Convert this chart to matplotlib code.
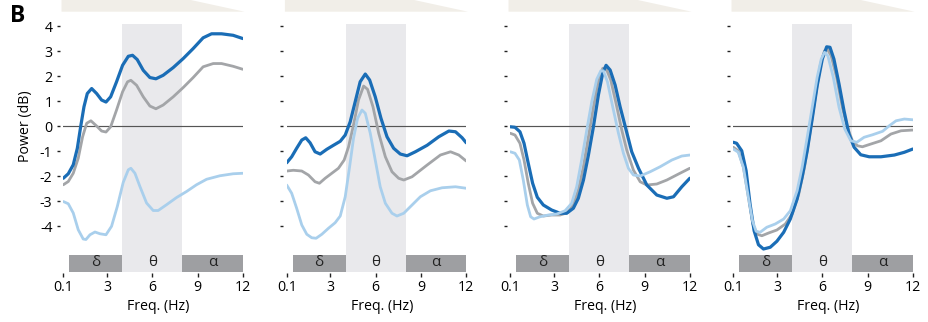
import matplotlib
matplotlib.use("Agg")
import matplotlib.pyplot as plt
from matplotlib.patches import Polygon

plt.rcParams["font.family"] = ["Open Sans", "DejaVu Sans"]
plt.rcParams["axes.unicode_minus"] = False

# ---- spectra (power in dB vs frequency in Hz), one panel per condition ----
# panel 1
f1_dark = [0.1, 0.43, 0.76, 1.03, 1.25, 1.47, 1.69, 1.98, 2.31, 2.64, 2.93, 3.24, 3.63, 4.03, 4.41,
           4.69, 5.0, 5.4, 5.84, 6.24, 6.72, 7.39, 8.05, 8.71, 9.37, 9.93, 10.59, 11.36, 12.0]
p1_dark = [-2.09, -1.91, -1.55, -0.89, -0.03, 0.77, 1.30, 1.50, 1.30, 1.04, 0.96, 1.17, 1.77, 2.43, 2.79,
           2.83, 2.66, 2.23, 1.94, 1.89, 2.03, 2.34, 2.70, 3.10, 3.53, 3.69, 3.69, 3.63, 3.50]
f1_gray = [0.1, 0.43, 0.76, 1.09, 1.38, 1.65, 1.93, 2.31, 2.64, 2.93, 3.24, 3.63, 4.03, 4.36,
           4.58, 4.96, 5.4, 5.84, 6.24, 6.72, 7.39, 8.05, 8.71, 9.37, 10.04, 10.59, 11.36, 12.0]
p1_gray = [-2.35, -2.22, -1.89, -1.29, -0.43, 0.11, 0.21, 0.0, -0.20, -0.24, -0.03, 0.64, 1.37, 1.77,
           1.83, 1.63, 1.17, 0.80, 0.69, 0.84, 1.17, 1.54, 1.94, 2.37, 2.50, 2.50, 2.39, 2.27]
f1_light = [0.1, 0.43, 0.76, 1.09, 1.42, 1.6, 1.87, 2.2, 2.53, 2.93, 3.3, 3.68, 4.07, 4.41, 4.58,
            4.85, 5.18, 5.62, 6.06, 6.39, 6.94, 7.61, 8.27, 8.93, 9.6, 10.48, 11.36, 12.0]
p1_light = [-3.02, -3.11, -3.48, -4.15, -4.52, -4.54, -4.35, -4.24, -4.31, -4.35, -4.01, -3.22, -2.26, -1.75, -1.69,
            -1.89, -2.42, -3.08, -3.38, -3.38, -3.15, -2.86, -2.62, -2.35, -2.13, -1.99, -1.91, -1.89]

# panel 2
f2_dark = [0.1, 0.43, 0.76, 1.1, 1.36, 1.65, 1.98, 2.32, 2.76, 3.2, 3.65, 3.98, 4.31, 4.64, 4.97,
           5.31, 5.6, 5.97, 6.35, 6.75, 7.19, 7.63, 8.08, 8.63, 9.41, 10.18, 10.85, 11.29, 11.73, 12.0]
p2_dark = [-1.47, -1.23, -0.89, -0.56, -0.47, -0.67, -1.03, -1.12, -0.93, -0.77, -0.61, -0.36, 0.17, 0.97, 1.77,
           2.08, 1.84, 1.17, 0.31, -0.43, -0.89, -1.12, -1.19, -1.03, -0.77, -0.43, -0.20, -0.23, -0.47, -0.67]
f2_gray = [0.1, 0.54, 1.1, 1.54, 1.98, 2.27, 2.65, 3.09, 3.53, 3.91, 4.2, 4.53, 4.86, 5.2,
           5.46, 5.82, 6.2, 6.64, 7.08, 7.52, 7.86, 8.41, 9.41, 10.29, 10.96, 11.51, 12.0]
p2_gray = [-1.80, -1.77, -1.80, -1.96, -2.23, -2.29, -2.09, -1.89, -1.69, -1.36, -0.83, 0.04, 1.04, 1.60,
           1.47, 0.77, -0.29, -1.23, -1.83, -2.09, -2.16, -2.03, -1.56, -1.16, -1.03, -1.16, -1.40]
f2_light = [0.1, 0.43, 0.76, 1.1, 1.43, 1.76, 2.05, 2.43, 2.87, 3.31, 3.65, 3.98, 4.27, 4.53, 4.8,
            5.09, 5.31, 5.64, 5.97, 6.3, 6.64, 7.08, 7.41, 7.86, 8.41, 8.96, 9.63, 10.4, 11.29, 12.0]
p2_light = [-2.36, -2.69, -3.29, -3.96, -4.33, -4.47, -4.49, -4.33, -4.09, -3.87, -3.60, -2.83, -1.63, -0.49, 0.31,
            0.64, 0.51, -0.29, -1.36, -2.43, -3.09, -3.49, -3.60, -3.49, -3.16, -2.83, -2.59, -2.47, -2.43, -2.49]

# panel 3
f3_dark = [0.1, 0.41, 0.74, 1.01, 1.29, 1.58, 1.89, 2.29, 2.84, 3.4, 3.84, 4.28, 4.61, 4.95, 5.28, 5.61,
           5.94, 6.23, 6.45, 6.72, 7.05, 7.38, 7.78, 8.15, 8.6, 9.15, 9.81, 10.48, 10.92, 11.47, 12.0]
p3_dark = [-0.03, -0.05, -0.23, -0.69, -1.49, -2.29, -2.85, -3.16, -3.36, -3.49, -3.49, -3.29, -2.89, -2.16, -1.16, -0.03,
           1.24, 2.13, 2.43, 2.24, 1.64, 0.77, -0.16, -1.03, -1.69, -2.36, -2.76, -2.89, -2.83, -2.43, -2.09]
f3_gray = [0.1, 0.41, 0.74, 1.01, 1.29, 1.58, 1.89, 2.29, 2.84, 3.4, 3.88, 4.28, 4.61, 4.95, 5.28,
           5.61, 5.94, 6.23, 6.45, 6.76, 7.11, 7.49, 7.82, 8.26, 8.71, 9.15, 9.81, 10.48, 11.25, 12.0]
p3_gray = [-0.29, -0.36, -0.69, -1.36, -2.29, -3.09, -3.49, -3.60, -3.56, -3.56, -3.47, -3.16, -2.56, -1.63, -0.43,
           0.77, 1.84, 2.31, 2.31, 1.84, 0.91, -0.16, -0.96, -1.76, -2.23, -2.36, -2.32, -2.16, -1.92, -1.69]
f3_light = [0.1, 0.41, 0.7, 0.96, 1.23, 1.45, 1.67, 2.07, 2.62, 3.18, 3.73, 4.17, 4.5, 4.83, 5.17, 5.5,
            5.83, 6.1, 6.27, 6.54, 6.89, 7.27, 7.6, 7.93, 8.26, 8.71, 9.37, 10.03, 10.81, 11.47, 12.0]
p3_light = [-1.03, -1.09, -1.36, -2.16, -3.16, -3.63, -3.72, -3.63, -3.56, -3.52, -3.39, -3.09, -2.43, -1.36, -0.16, 0.97,
            1.87, 2.21, 2.21, 1.77, 0.77, -0.29, -1.09, -1.69, -1.96, -2.00, -1.83, -1.63, -1.36, -1.20, -1.16]

# panel 4
f4_dark = [0.1, 0.32, 0.66, 0.95, 1.21, 1.48, 1.77, 2.1, 2.55, 2.99, 3.44, 3.88, 4.33, 4.66, 5.0, 5.33,
           5.66, 6.0, 6.29, 6.51, 6.77, 7.11, 7.44, 7.77, 8.11, 8.55, 9.11, 9.89, 10.78, 11.44, 12.0]
p4_dark = [-0.65, -0.69, -0.99, -1.79, -3.12, -4.19, -4.75, -4.92, -4.85, -4.61, -4.25, -3.72, -2.92, -2.05, -0.99, 0.28,
           1.61, 2.68, 3.17, 3.15, 2.68, 1.68, 0.61, -0.32, -0.85, -1.15, -1.23, -1.23, -1.16, -1.05, -0.92]
f4_gray = [0.1, 0.43, 0.77, 1.1, 1.39, 1.66, 1.99, 2.44, 2.99, 3.55, 4.0, 4.44, 4.82, 5.17, 5.55,
           5.88, 6.15, 6.33, 6.59, 6.95, 7.33, 7.66, 8.0, 8.33, 8.66, 9.22, 9.89, 10.55, 11.22, 12.0]
p4_gray = [-0.85, -0.99, -1.65, -2.85, -3.92, -4.32, -4.39, -4.28, -4.16, -3.92, -3.52, -2.72, -1.65, -0.32, 1.21,
           2.48, 3.01, 3.08, 2.81, 1.95, 0.75, -0.05, -0.59, -0.79, -0.83, -0.72, -0.59, -0.32, -0.19, -0.16]
f4_light = [0.1, 0.43, 0.77, 1.1, 1.37, 1.61, 1.88, 2.32, 2.88, 3.44, 3.88, 4.33, 4.66, 5.0, 5.33, 5.66,
            5.93, 6.15, 6.37, 6.73, 7.11, 7.49, 7.89, 8.29, 8.77, 9.33, 10.0, 10.44, 10.89, 11.44, 12.0]
p4_light = [-0.92, -1.05, -1.65, -2.85, -3.79, -4.21, -4.25, -4.05, -3.92, -3.72, -3.39, -2.59, -1.65, -0.45, 0.75, 1.95,
            2.68, 2.95, 2.81, 1.95, 0.75, -0.12, -0.59, -0.65, -0.45, -0.35, -0.21, 0.01, 0.21, 0.28, 0.25]

panels = [
    ((f1_dark, p1_dark), (f1_gray, p1_gray), (f1_light, p1_light)),
    ((f2_dark, p2_dark), (f2_gray, p2_gray), (f2_light, p2_light)),
    ((f3_dark, p3_dark), (f3_gray, p3_gray), (f3_light, p3_light)),
    ((f4_dark, p4_dark), (f4_gray, p4_gray), (f4_light, p4_light)),
]

# frequency bands
band_names = ["δ", "θ", "α"]
band_lo = [0.5, 4.0, 8.0]
band_hi = [4.0, 8.0, 12.0]

x_ticks = [0.1, 3, 6, 9, 12]
x_tick_labels = ["0.1", "3", "6", "9", "12"]
y_ticks = [-4, -3, -2, -1, 0, 1, 2, 3, 4]

DARK = "#1a6db6"
GRAY = "#a3a5a8"
LIGHT = "#a9cfec"
THETA_BG = "#e9e9ec"
BAND_BAR = "#9e9fa2"
WEDGE = "#f1eee8"

Y_MIN, Y_MAX = -5.84, 4.07
BAR_TOP = -5.15

W, H = 929, 322
fig = plt.figure(figsize=(W / 100, H / 100), dpi=100)

lefts = [63.3, 286.7, 510.3, 733.3]
ax_w = 179.5
ax_bottom = (H - 272) / H
ax_h = (272 - 24.3) / H
FS = 10.2

for i, series in enumerate(panels):
    ax = fig.add_axes([lefts[i] / W, ax_bottom, ax_w / W, ax_h])
    ax.set_xlim(0.1, 12)
    ax.set_ylim(Y_MIN, Y_MAX)

    # theta shading over the full height
    ax.axvspan(band_lo[1], band_hi[1], color=THETA_BG, lw=0, zorder=0)
    # delta / alpha bars
    for k in (0, 2):
        ax.fill_between([band_lo[k], band_hi[k]], Y_MIN, BAR_TOP, color=BAND_BAR, lw=0, zorder=1)
    for k in range(3):
        ax.text((band_lo[k] + band_hi[k]) / 2, (Y_MIN + BAR_TOP) / 2 + 0.03, band_names[k],
                ha="center", va="center", fontsize=11, color="#222222", zorder=3)

    ax.axhline(0, color="#555555", lw=0.85, zorder=2)

    (fd, pd_), (fg, pg), (fl, pl) = series
    ax.plot(fg, pg, color=GRAY, lw=2.0, solid_capstyle="round", solid_joinstyle="round", zorder=4)
    ax.plot(fd, pd_, color=DARK, lw=2.3, solid_capstyle="round", solid_joinstyle="round", zorder=5)
    ax.plot(fl, pl, color=LIGHT, lw=2.0, solid_capstyle="round", solid_joinstyle="round", zorder=6)

    for s in ax.spines.values():
        s.set_visible(False)
    ax.spines["left"].set_position(("outward", 2.4))
    ax.spines["bottom"].set_position(("outward", 1.0))

    ax.set_xticks(x_ticks)
    ax.set_xticklabels(x_tick_labels)
    ax.set_yticks(y_ticks)
    ax.tick_params(axis="x", direction="out", length=3, width=1.0, pad=1.8, labelsize=FS, color="#222222")
    ax.tick_params(axis="y", direction="out", length=2.4, width=1.0, pad=3.0, labelsize=FS, color="#222222")
    if i > 0:
        ax.tick_params(axis="y", labelleft=False)
    ax.patch.set_alpha(0)

    ax.text(0.531, -0.14, "Freq. (Hz)", transform=ax.transAxes, ha="center", va="center", fontsize=FS)

    # beige wedge above each panel
    top_y = 272 / ax_h / H
    low_y = (272 - 11.7) / ax_h / H
    wedge = Polygon([(-0.01, top_y + 0.05), (-0.01, low_y), (1.01, low_y), (0.71, top_y), (0.71, top_y + 0.05)],
                    closed=True, transform=ax.transAxes, clip_on=False, facecolor=WEDGE, edgecolor="none")
    ax.add_patch(wedge)

    if i == 0:
        ax.text(-0.208, (0 - Y_MIN) / (Y_MAX - Y_MIN), "Power (dB)", transform=ax.transAxes,
                rotation=90, ha="center", va="center", fontsize=FS)

fig.text(10 / W, 1 - 16 / H, "B", fontsize=16.5, fontweight="bold", ha="left", va="center")

fig.savefig("out.png", dpi=100)
